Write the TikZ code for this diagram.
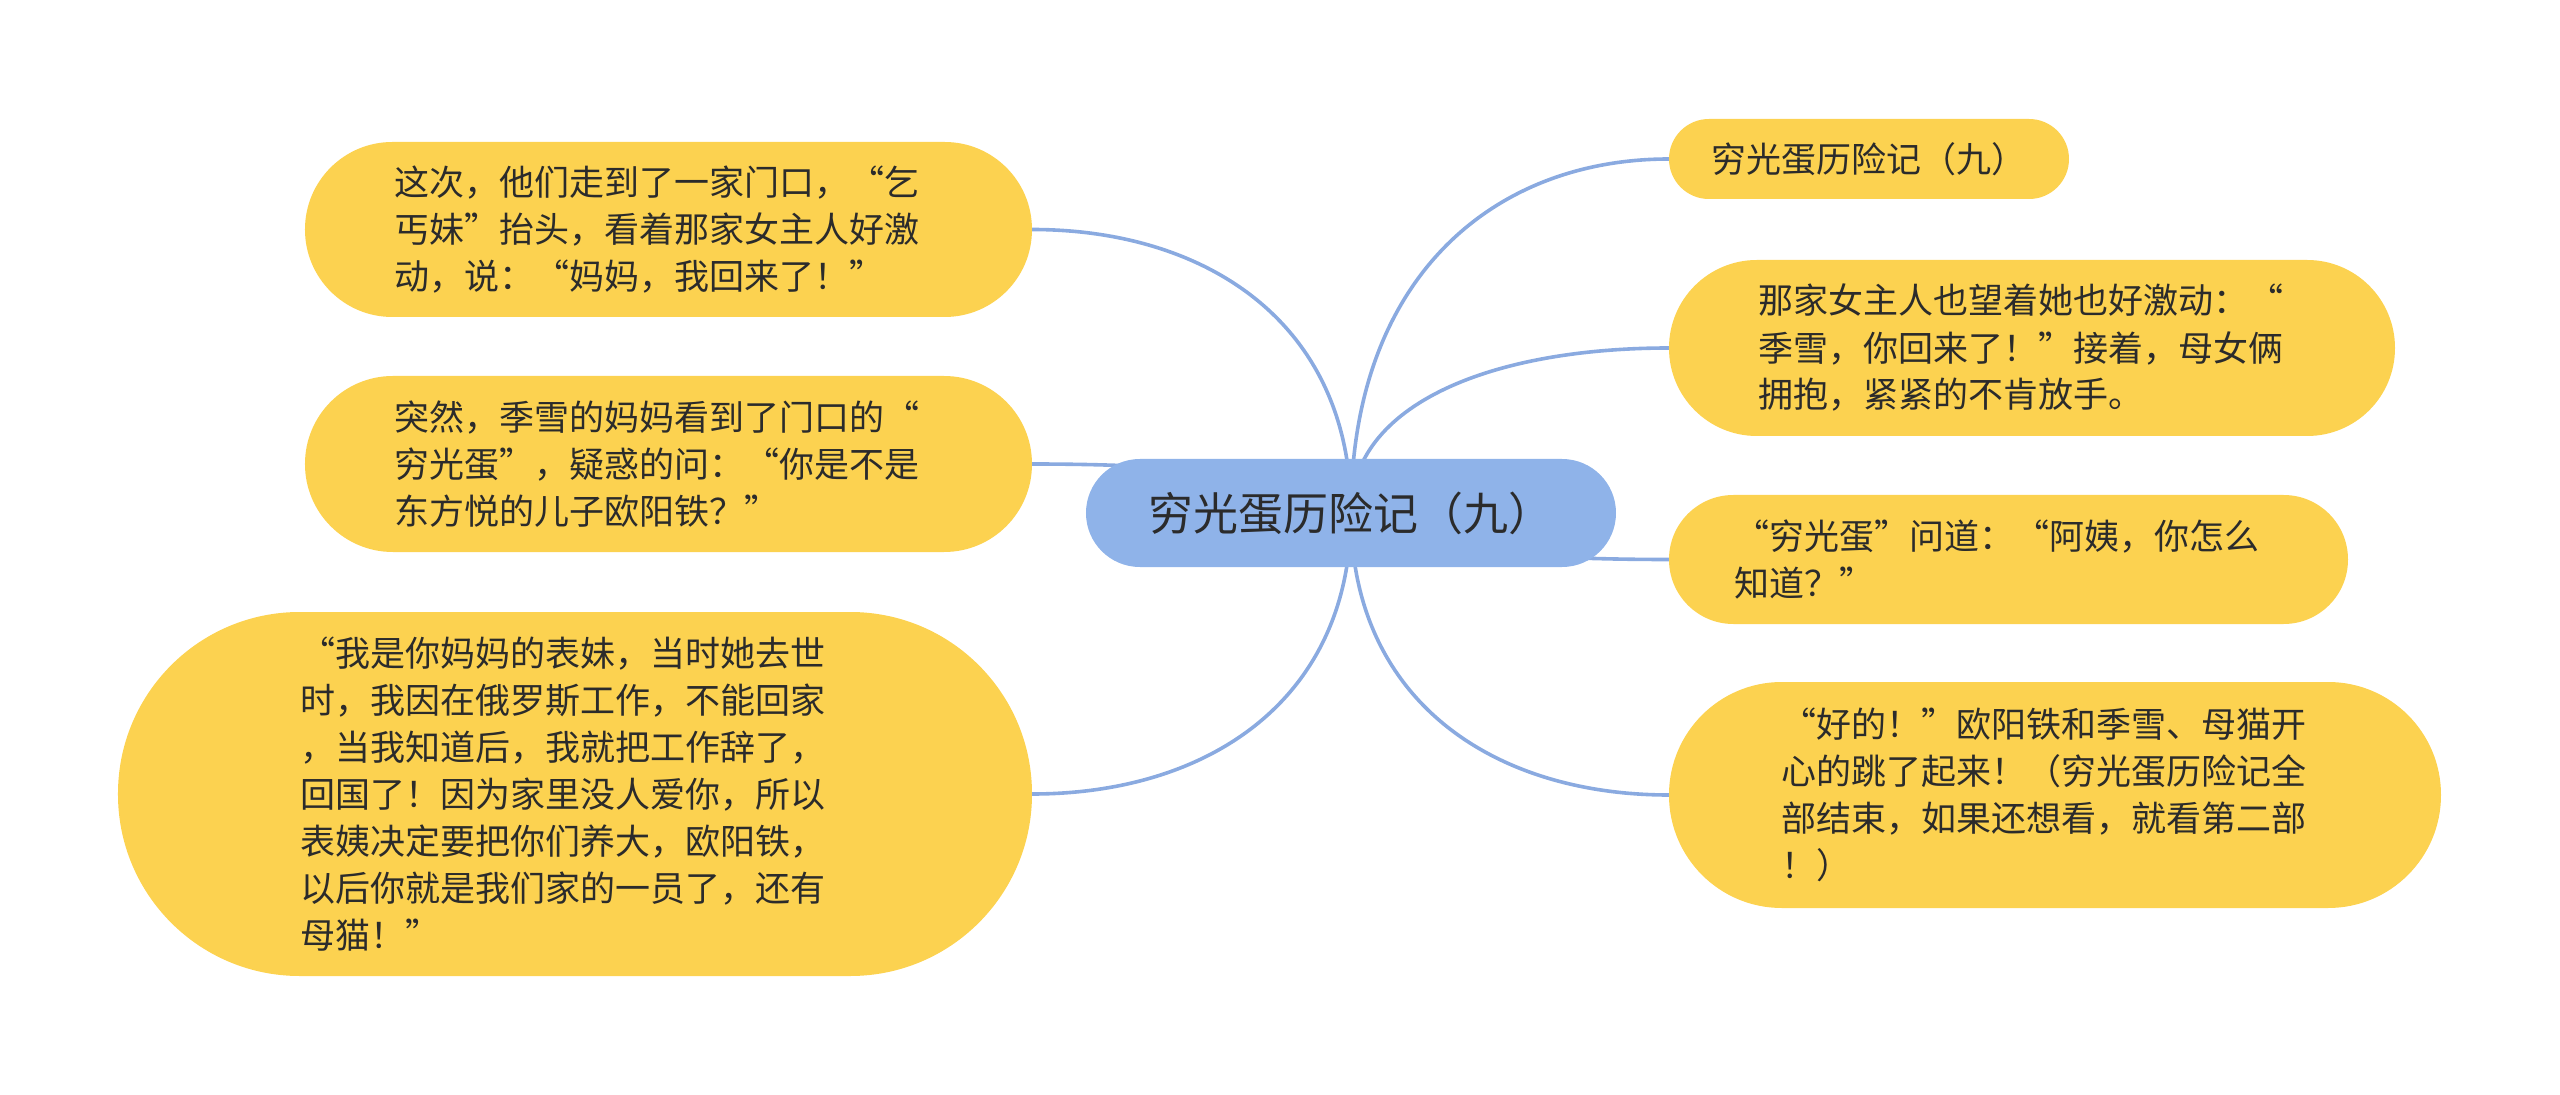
\documentclass[tikz,border=0pt]{standalone}
\usepackage{fontspec}
\newfontfamily\cjk{Noto Sans CJK SC}
\usetikzlibrary{positioning,calc,backgrounds}

\definecolor{leafyellow}{HTML}{FCD250}
\definecolor{rootblue}{HTML}{8FB3E9}
\definecolor{linkblue}{HTML}{8AAAE0}
\definecolor{inkgray}{HTML}{2B2B2B}

\begin{document}
\begin{tikzpicture}[on grid,
    topic/.style={rectangle, fill=rootblue, rounded corners=53.9pt, minimum width=530pt,
      minimum height=108pt, inner sep=0pt, text=inkgray, font=\cjk\fontsize{45}{52}\selectfont},
    leafbase/.style 2 args={rectangle, fill=leafyellow, minimum width=#1, minimum height=#2,
      rounded corners=0.499*#2, inner sep=0pt, text=inkgray, font=\cjk\fontsize{35}{47}\selectfont},
    leaf/.style 2 args={leafbase={#1}{#2}, text width=548pt, align=left},
    link/.style={draw=linkblue, line width=3.6pt}]
   \useasboundingbox (-1351pt,-582pt) rectangle (1209pt,513pt);
   \node[topic] (root) {穷光蛋历险记（九）};
   % right side
   \node[leafbase={400pt}{80pt}] (r1) [above right=354pt and 518pt of root] {穷光蛋历险记（九）};
   \node[leaf={726pt}{176pt}] (r2) [above right=165pt and 681pt of root]
     {那家女主人也望着她也好激动：“\\季雪，你回来了！”接着，母女俩\\拥抱，紧紧的不肯放手。};
   \node[leaf={679pt}{129pt}] (r3) [below right=46.5pt and 657.5pt of root]
     {“穷光蛋”问道：“阿姨，你怎么\\知道？”};
   \node[leaf={772pt}{226pt}] (r4) [below right=282pt and 704pt of root]
     {“好的！”欧阳铁和季雪、母猫开\\心的跳了起来！（穷光蛋历险记全\\部结束，如果还想看，就看第二部\\！）};
   % left side
   \node[leaf={727pt}{175pt}] (l1) [above left=283.5pt and 682.5pt of root]
     {这次，他们走到了一家门口，“乞\\丐妹”抬头，看着那家女主人好激\\动，说：“妈妈，我回来了！”};
   \node[leaf={727pt}{176pt}] (l2) [above left=49pt and 682.5pt of root]
     {突然，季雪的妈妈看到了门口的“\\穷光蛋”，疑惑的问：“你是不是\\东方悦的儿子欧阳铁？”};
   \node[leaf={914pt}{364pt}] (l3) [below left=281pt and 776pt of root]
     {“我是你妈妈的表妹，当时她去世\\时，我因在俄罗斯工作，不能回家\\，当我知道后，我就把工作辞了，\\回国了！因为家里没人爱你，所以\\表姨决定要把你们养大，欧阳铁，\\以后你就是我们家的一员了，还有\\母猫！”};
   \begin{scope}[on background layer]
    \foreach \leafname/\side in {r1/west,r2/west,r3/west,r4/west,l1/east,l2/east,l3/east}
      \draw[link] (root.center)
        .. controls ($(root.center)!0.667!(root.center |- \leafname.\side)$)
        and ($(\leafname.\side)!0.55!(root.center |- \leafname.\side)$) .. (\leafname.\side);
   \end{scope}
\end{tikzpicture}
\end{document}
